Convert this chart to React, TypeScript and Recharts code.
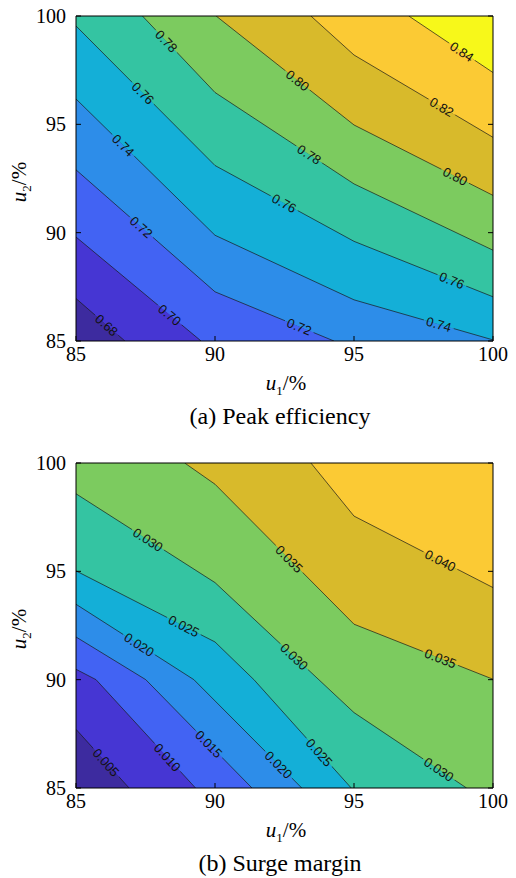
import { ComposedChart, Area, Line, Scatter, XAxis, YAxis, CartesianGrid } from 'recharts';

type Pt = [number, number];

const U_MIN = 85;
const U_MAX = 100;
const U1_TICKS = [85, 90, 95, 100];
const U2_TICKS = [85, 90, 95, 100];

// parula-like band colours, lowest band first
const BAND_COLORS = [
  '#3d2b9f',
  '#4636d3',
  '#4263f3',
  '#2d8de9',
  '#14afd7',
  '#34c4a2',
  '#7ccb5f',
  '#d8ba2b',
  '#fbca34',
  '#f7f81a',
];

// (a) peak efficiency, contour lines as [u1, u2] in %
const EFF_LEVELS = [0.68, 0.7, 0.72, 0.74, 0.76, 0.78, 0.8, 0.82, 0.84];
const EFF_068: Pt[] = [[85, 86.96], [86.76, 85]];
const EFF_070: Pt[] = [[85, 89.8], [89.5, 85]];
const EFF_072: Pt[] = [[85, 92.9], [90, 87.27], [94.28, 85]];
const EFF_074: Pt[] = [[85, 96.17], [90, 89.88], [95, 86.9], [100, 85.05]];
const EFF_076: Pt[] = [[85, 99.54], [90, 93.1], [95, 89.6], [100, 87.04]];
const EFF_078: Pt[] = [[87.39, 100], [90, 96.47], [95, 92.25], [100, 89.19]];
const EFF_080: Pt[] = [[90.04, 100], [95, 94.97], [100, 91.72]];
const EFF_082: Pt[] = [[93.45, 100], [95, 98.2], [100, 94.4]];
const EFF_084: Pt[] = [[96.97, 100], [100, 97.39]];
// [level, u1 of label]
const EFF_LABELS: Pt[] = [
  [0.68, 86.1], [0.7, 88.37], [0.72, 87.35], [0.72, 93.03], [0.74, 86.7], [0.74, 98.05],
  [0.76, 87.41], [0.76, 92.49], [0.76, 98.52], [0.78, 88.25], [0.78, 93.39],
  [0.8, 92.97], [0.8, 98.64], [0.82, 98.16], [0.84, 98.88],
];

// (b) surge margin
const SM_LEVELS = [0.005, 0.01, 0.015, 0.02, 0.025, 0.03, 0.035, 0.04];
const SM_005: Pt[] = [[85, 87.71], [86.91, 85]];
const SM_010: Pt[] = [[85, 90.48], [85.72, 90], [89.3, 85]];
const SM_015: Pt[] = [[85, 91.97], [87.51, 90], [91.33, 85]];
const SM_020: Pt[] = [[85, 93.48], [89.24, 90], [93.12, 85]];
const SM_025: Pt[] = [[85, 95.02], [90, 91.74], [91.4, 90], [94.9, 85]];
const SM_030: Pt[] = [[85, 98.58], [90, 94.48], [95, 88.48], [99.05, 85]];
const SM_035: Pt[] = [[88.91, 100], [90, 99.02], [95, 92.56], [100, 90.02]];
const SM_040: Pt[] = [[93.45, 100], [95, 97.55], [100, 94.25]];
const SM_LABELS: Pt[] = [
  [0.005, 86.08], [0.01, 88.29], [0.015, 89.78], [0.02, 87.27], [0.02, 92.29],
  [0.025, 88.88], [0.025, 93.75], [0.03, 87.59], [0.03, 92.85], [0.03, 98.05],
  [0.035, 92.67], [0.035, 98.11], [0.04, 98.11],
];

const CHART_W = 516;
const CHART_H = 380;
const PLOT_W = 418;
const PLOT_H = 326;
const SERIF = '"Liberation Serif", "Times New Roman", serif';
const SANS = '"Liberation Sans", Arial, sans-serif';

const toRows = (pts: Pt[]) => pts.map(([u1, u2]) => ({ u1, u2 }));

// close the region above a contour along the plot border
function fillRows(pts: Pt[]) {
  const rows = toRows(pts);
  if (pts[0][1] === U_MAX && pts[0][0] > U_MIN) rows.unshift({ u1: U_MIN, u2: U_MAX });
  const last = pts[pts.length - 1];
  if (last[1] === U_MIN && last[0] < U_MAX) rows.push({ u1: U_MAX, u2: U_MIN });
  return rows;
}

function labelRows(levels: number[], lines: Pt[][], labels: Pt[], digits: number) {
  return labels.map(([level, u1]) => {
    const i = levels.findIndex((l) => Math.abs(l - level) < 1e-9);
    const pts = lines[i];
    let k = 0;
    while (k < pts.length - 2 && u1 > pts[k + 1][0]) k++;
    const [x1, y1] = pts[k];
    const [x2, y2] = pts[k + 1];
    const u2 = y1 + ((u1 - x1) / (x2 - x1)) * (y2 - y1);
    const angle = (Math.atan2(-(y2 - y1) * PLOT_H, (x2 - x1) * PLOT_W) * 180) / Math.PI;
    return {
      u1,
      u2,
      text: level.toFixed(digits),
      angle,
      upper: BAND_COLORS[i + 1],
      lower: BAND_COLORS[i],
    };
  });
}

function ContourLabel(props: any) {
  const { cx, cy, payload } = props;
  if (cx == null || cy == null) return null;
  const w = payload.text.length * 7 + 3;
  return (
    <g transform={`translate(${cx},${cy}) rotate(${payload.angle})`}>
      <rect x={-w / 2} y={-2.5} width={w} height={2.6} fill={payload.upper} />
      <rect x={-w / 2} y={0} width={w} height={2.5} fill={payload.lower} />
      <text x={0} y={0} dy="0.36em" textAnchor="middle" fontSize={13} fontFamily={SANS} fill="#111">
        {payload.text}
      </text>
    </g>
  );
}

interface PanelProps {
  levels: number[];
  lines: Pt[][];
  labels: Pt[];
  digits: number;
  caption: string;
  top: number;
}

function ContourPanel({ levels, lines, labels, digits, caption, top }: PanelProps) {
  const tickStyle = { fontSize: 20, fill: '#000', fontFamily: SERIF };
  return (
    <div style={{ position: 'absolute', left: 0, top, width: CHART_W, height: 440 }}>
      <ComposedChart width={CHART_W} height={CHART_H} margin={{ top: 15, right: 22, bottom: 9, left: 26 }}>
        <CartesianGrid horizontal={false} vertical={false} fill={BAND_COLORS[0]} />
        <XAxis
          dataKey="u1"
          type="number"
          domain={[U_MIN, U_MAX]}
          ticks={U1_TICKS}
          allowDataOverflow
          height={30}
          tickSize={-5}
          tickMargin={11}
          interval={0}
          tick={tickStyle}
          axisLine={{ stroke: '#000' }}
          tickLine={{ stroke: '#000' }}
        />
        <XAxis
          xAxisId="top"
          orientation="top"
          type="number"
          domain={[U_MIN, U_MAX]}
          ticks={U1_TICKS}
          allowDataOverflow
          height={1}
          tickSize={-5}
          tickFormatter={() => ''}
          axisLine={{ stroke: '#000' }}
          tickLine={{ stroke: '#000' }}
        />
        <YAxis
          dataKey="u2"
          type="number"
          domain={[U_MIN, U_MAX]}
          ticks={U2_TICKS}
          allowDataOverflow
          width={50}
          tickSize={-5}
          tickMargin={15}
          interval={0}
          tick={tickStyle}
          axisLine={{ stroke: '#000' }}
          tickLine={{ stroke: '#000' }}
        />
        <YAxis
          yAxisId="right"
          orientation="right"
          type="number"
          domain={[U_MIN, U_MAX]}
          ticks={U2_TICKS}
          allowDataOverflow
          width={1}
          tickSize={-5}
          tickFormatter={() => ''}
          axisLine={{ stroke: '#000' }}
          tickLine={{ stroke: '#000' }}
        />
        {lines.map((pts, i) => (
          <Area
            key={`fill-${i}`}
            data={fillRows(pts)}
            dataKey="u2"
            type="linear"
            baseValue={U_MAX}
            fill={BAND_COLORS[i + 1]}
            fillOpacity={1}
            stroke="none"
            activeDot={false}
            isAnimationActive={false}
          />
        ))}
        {lines.map((pts, i) => (
          <Line
            key={`line-${i}`}
            data={toRows(pts)}
            dataKey="u2"
            type="linear"
            stroke="#1a1a1a"
            strokeWidth={0.7}
            dot={false}
            activeDot={false}
            isAnimationActive={false}
          />
        ))}
        <Scatter
          data={labelRows(levels, lines, labels, digits)}
          dataKey="u2"
          shape={ContourLabel}
          isAnimationActive={false}
        />
      </ComposedChart>
      <div
        style={{
          position: 'absolute',
          left: 286,
          top: 372,
          transform: 'translateX(-50%)',
          fontFamily: SERIF,
          fontSize: 21,
          whiteSpace: 'nowrap',
          lineHeight: '22px',
        }}
      >
        <i>u</i>
        <sub style={{ fontSize: 13 }}>1</sub>/%
      </div>
      <div
        style={{
          position: 'absolute',
          left: 23,
          top: 182,
          transform: 'translate(-50%, -50%) rotate(-90deg)',
          fontFamily: SERIF,
          fontSize: 21,
          whiteSpace: 'nowrap',
          lineHeight: '22px',
        }}
      >
        <i>u</i>
        <sub style={{ fontSize: 13 }}>2</sub>/%
      </div>
      <div
        style={{
          position: 'absolute',
          left: 280,
          top: 402,
          transform: 'translateX(-50%)',
          fontFamily: SERIF,
          fontSize: 24,
          whiteSpace: 'nowrap',
          lineHeight: '28px',
        }}
      >
        {caption}
      </div>
    </div>
  );
}

export default function App() {
  return (
    <div style={{ position: 'absolute', left: 0, top: 0, width: 516, height: 878, background: '#fff' }}>
      <ContourPanel
        levels={EFF_LEVELS}
        lines={[EFF_068, EFF_070, EFF_072, EFF_074, EFF_076, EFF_078, EFF_080, EFF_082, EFF_084]}
        labels={EFF_LABELS}
        digits={2}
        caption="(a) Peak efficiency"
        top={0}
      />
      <ContourPanel
        levels={SM_LEVELS}
        lines={[SM_005, SM_010, SM_015, SM_020, SM_025, SM_030, SM_035, SM_040]}
        labels={SM_LABELS}
        digits={3}
        caption="(b) Surge margin"
        top={447}
      />
    </div>
  );
}
